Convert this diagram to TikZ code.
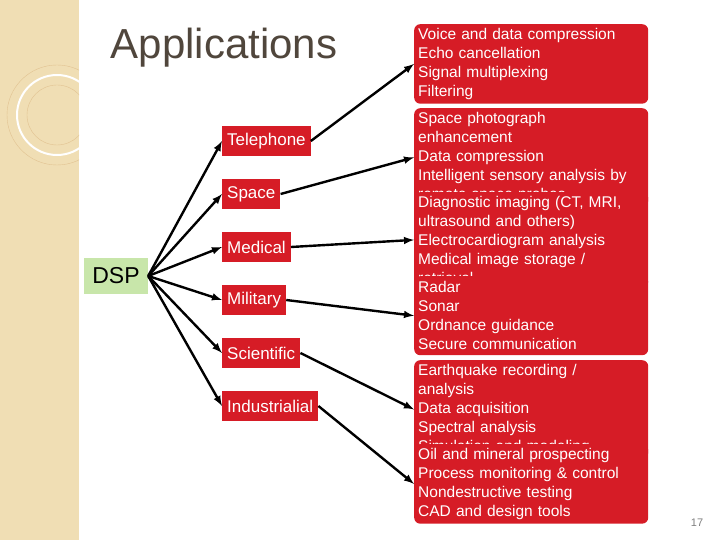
\documentclass[tikz,border=0pt]{standalone}
\usepackage{fontspec}
\setmainfont{Liberation Sans}
\usepackage{tikz}
\definecolor{strip}{RGB}{240,222,180}
\definecolor{boxred}{RGB}{214,28,38}
\definecolor{dspgreen}{RGB}{200,230,170}
\definecolor{titlegray}{RGB}{80,70,60}
\tikzset{
  appbox/.style={draw=none, fill=boxred, text=white, anchor=west, inner sep=5pt,
    minimum height=30pt, font=\fontsize{17}{19}\selectfont},
  usebox/.style={fill=boxred, text=white, anchor=north west, rounded corners=6pt,
    minimum width=234pt, text width=226pt, align=left, inner sep=4pt,
    font=\fontsize{15.5}{19}\selectfont},
  link/.style={-latex, line width=2.4pt}
}
\begin{document}
\begin{tikzpicture}[x=1pt, y=-1pt]
\useasboundingbox (0,0) rectangle (720,540);

%left strip
\fill[strip] (0,0) rectangle (79,540);
\begin{scope}
\clip (0,0) rectangle (79,540);
\draw[white, line width=2pt] (57,115) circle (40);
\draw[strip!70!brown, line width=0.4pt] (57,115) circle (30);
\draw[strip!70!brown, line width=0.4pt] (57,115) circle (50);
\end{scope}

\node[text=titlegray, font=\fontsize{42}{46}\selectfont] (title) at (224,48) {Applications};

\node[fill=dspgreen, minimum width=64pt, minimum height=36pt, font=\fontsize{23}{26}\selectfont] (dsp) at (116,276) {DSP};

\node[appbox] (tel) at (222,141) {Telephone};
\node[appbox] (spc) at (222,194) {Space};
\node[appbox] (med) at (222,247) {Medical};
\node[appbox] (mil) at (222,300) {Military};
\node[appbox] (sci) at (222,353) {Scientific};
\node[appbox] (ind) at (222,406) {Industrialial};

\node[usebox, minimum height=79pt] (r1) at (414,24) {Voice and data compression\\Echo cancellation\\Signal multiplexing\\Filtering};
\node[usebox, minimum height=79pt] (r2) at (414,108) {Space photograph\\enhancement\\Data compression\\Intelligent sensory analysis by\\remote space probes};
\node[usebox, minimum height=79pt] (r3) at (414,192) {Diagnostic imaging (CT, MRI,\\ultrasound and others)\\Electrocardiogram analysis\\Medical image storage /\\retrieval};
\node[usebox, minimum height=79pt] (r4) at (414,276) {Radar\\Sonar\\Ordnance guidance\\Secure communication};
\node[usebox, minimum height=79pt] (r5) at (414,360) {Earthquake recording /\\analysis\\Data acquisition\\Spectral analysis\\Simulation and modeling};
\node[usebox, minimum height=79pt] (r6) at (414,444) {Oil and mineral prospecting\\Process monitoring \& control\\Nondestructive testing\\CAD and design tools};

\node[text=gray, font=\fontsize{11}{13}\selectfont] (page) at (697,523) {17};

\foreach \a in {tel,spc,med,mil,sci,ind}
  \draw[link] (dsp.east) to (\a.west);

\draw[link] (tel.east) to (r1.west);
\draw[link] (spc.east) to (r2.west);
\draw[link] (med.east) to (r3.west);
\draw[link] (mil.east) to (r4.west);
\draw[link] (sci.east) to (r5.west);
\draw[link] (ind.east) to (r6.west);

\end{tikzpicture}
\end{document}
